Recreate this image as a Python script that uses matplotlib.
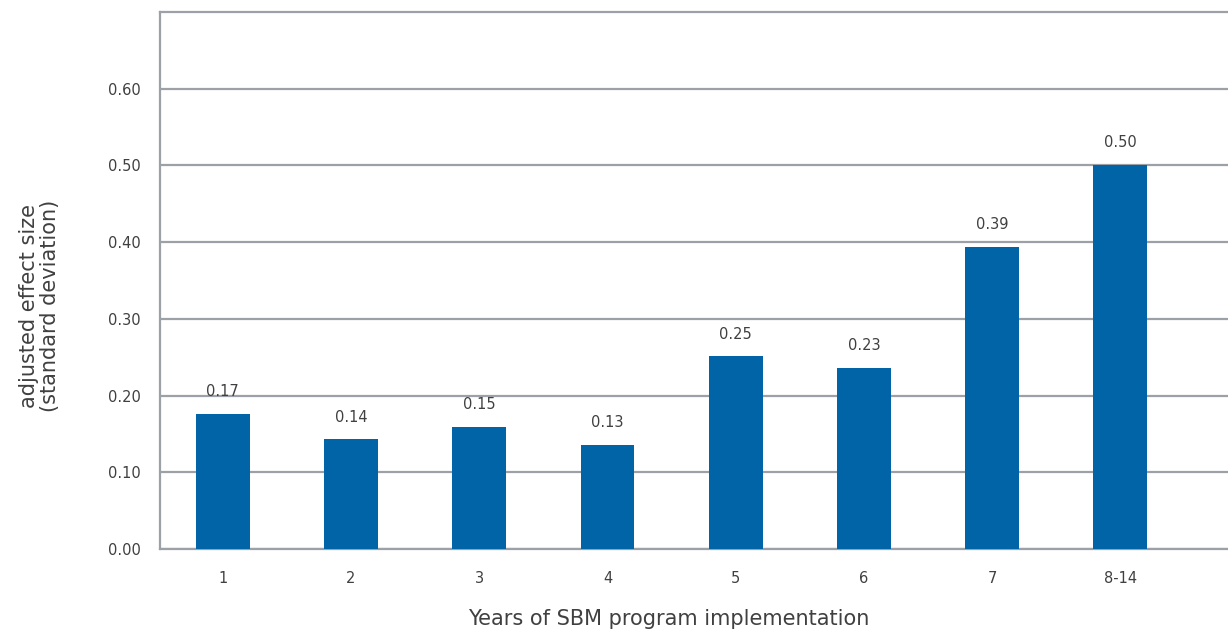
import math
import matplotlib.pyplot as plt
import numpy as np

# years of implementation and adjusted effect size (SD)
years = ['1', '2', '3', '4', '5', '6', '7', '8-14']
effect = [0.176, 0.143, 0.159, 0.136, 0.251, 0.236, 0.394, 0.501]
yticks = [0.0, 0.1, 0.2, 0.3, 0.4, 0.5, 0.6]

bar_col = '#0064a7'
grid_col = '#9ba1a6'
txt_col = '#404040'

plt.rcParams['font.family'] = ['DejaVu Sans']

fig = plt.figure(figsize=(12.28, 6.33), dpi=100)
ax = fig.add_axes([0.1303, 0.1327, 0.8697, 0.8483])

x = np.arange(len(years))
ax.bar(x, effect, width=0.42, color=bar_col, zorder=3)

for xi, v in zip(x, effect):
    lab = '%.2f' % (math.floor(v * 100) / 100)
    ax.annotate(lab, (xi, v), xytext=(0, 10.5), textcoords='offset points',
                ha='center', va='bottom', fontsize=10.5, color=txt_col)

ax.set_xlim(-0.49, 7.84)
ax.set_ylim(0, 0.70)
ax.set_yticks(yticks)
ax.set_yticklabels(['%.2f' % t for t in yticks])
ax.set_xticks(x)
ax.set_xticklabels(years)
ax.yaxis.grid(True, color=grid_col, linewidth=1.6, zorder=0)
ax.set_axisbelow(True)

for s in ['left', 'bottom', 'top']:
    ax.spines[s].set_color(grid_col)
    ax.spines[s].set_linewidth(1.6)
ax.spines['right'].set_visible(False)

ax.tick_params(axis='both', length=0, labelsize=10.5, labelcolor=txt_col)
ax.tick_params(axis='x', pad=16)
ax.tick_params(axis='y', pad=14)

ax.set_xlabel('Years of SBM program implementation', fontsize=15,
              color=txt_col)
ax.set_ylabel('adjusted effect size\n(standard deviation)', fontsize=15,
              color=txt_col, linespacing=1.05)
ax.xaxis.set_label_coords(0.476, -0.112)
ax.yaxis.set_label_coords(-0.094, 0.4525)

fig.savefig('out.png', dpi=100)
